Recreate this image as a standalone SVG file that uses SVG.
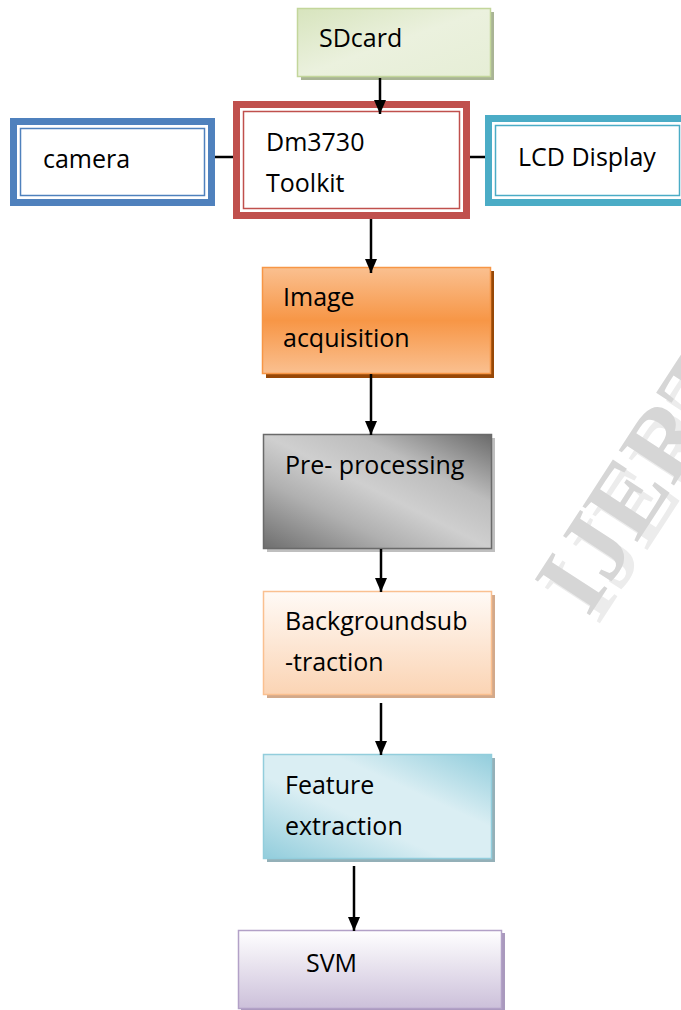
<svg xmlns="http://www.w3.org/2000/svg" width="681" height="1010" viewBox="0 0 681 1010">
<style>
.t{font-family:"Open Sans","Liberation Sans",sans-serif;font-size:25px;fill:#000}
.c{stroke:#000;stroke-width:2.5;fill:none}
.wm{font-family:"Liberation Serif","Times New Roman",serif;font-size:100px;font-weight:bold}
</style>
<defs>
<marker id="ah" viewBox="0 0 14 12" refX="14" refY="6" markerWidth="14" markerHeight="12" markerUnits="userSpaceOnUse" orient="auto"><path d="M0,0 L14,6 L0,12 z" fill="#000"/></marker>
<linearGradient id="gGreen" x1="0" y1="0" x2="1" y2="1"><stop offset="0" stop-color="#d7e4bd"/><stop offset="0.5" stop-color="#ebf1de"/><stop offset="1" stop-color="#e6eed6"/></linearGradient>
<linearGradient id="gOrange" x1="0" y1="0" x2="0" y2="1"><stop offset="0" stop-color="#fac090"/><stop offset="0.5" stop-color="#f79646"/><stop offset="1" stop-color="#fac090"/></linearGradient>
<linearGradient id="gGray" x1="0" y1="1" x2="1" y2="0"><stop offset="0" stop-color="#6e6e6e"/><stop offset="0.3" stop-color="#b0b0b0"/><stop offset="0.5" stop-color="#cfcfcf"/><stop offset="0.7" stop-color="#bdbdbd"/><stop offset="1" stop-color="#6a6a6a"/></linearGradient>
<linearGradient id="gPeach" x1="0" y1="0" x2="0" y2="1"><stop offset="0" stop-color="#fffaf6"/><stop offset="1" stop-color="#fbd4b4"/></linearGradient>
<linearGradient id="gTeal" x1="0" y1="1" x2="1" y2="0"><stop offset="0" stop-color="#92cddc"/><stop offset="0.4" stop-color="#daeef3"/><stop offset="0.65" stop-color="#daeef3"/><stop offset="1" stop-color="#92cddc"/></linearGradient>
<linearGradient id="gPurple" x1="0" y1="0" x2="0" y2="1"><stop offset="0" stop-color="#ffffff"/><stop offset="1" stop-color="#ccc0da"/></linearGradient>
</defs>
<rect width="681" height="1010" fill="#fff"/>
<g id="watermark">
<text class="wm" x="0" y="0" transform="translate(598,626) rotate(-57)" fill="#ececec">IJERT</text>
<text class="wm" x="0" y="0" transform="translate(588,618) rotate(-57)" fill="#d6d6d6">IJERT</text>
</g>
<g id="sdcard">
<rect x="301" y="12" width="193" height="68" fill="#a9b495"/>
<rect x="297.5" y="8.5" width="193" height="68" fill="url(#gGreen)" stroke="#c3d69b" stroke-width="1.5"/>
<text class="t" x="319" y="47">SDcard</text>
</g>
<g id="dm3730">
<rect x="236.5" y="104.5" width="230" height="111" fill="#fff" stroke="#c0504d" stroke-width="7"/>
<rect x="243.5" y="111.5" width="216" height="97" fill="none" stroke="#c0504d" stroke-width="1.5"/>
<text class="t" x="266" y="151">Dm3730</text>
<text class="t" x="266" y="192">Toolkit</text>
</g>
<g id="camera">
<rect x="13.5" y="121.5" width="198" height="81" fill="#fff" stroke="#4f81bd" stroke-width="7"/>
<rect x="20.5" y="128.5" width="184" height="67" fill="none" stroke="#4f81bd" stroke-width="1.5"/>
<text class="t" x="43" y="168">camera</text>
</g>
<g id="lcd">
<rect x="488.5" y="118.5" width="198" height="84" fill="#fff" stroke="#4bacc6" stroke-width="7"/>
<rect x="495.5" y="125.5" width="184" height="70" fill="none" stroke="#4bacc6" stroke-width="1.5"/>
<text class="t" x="518" y="166">LCD Display</text>
</g>
<g id="image-acquisition">
<rect x="266" y="271" width="228" height="107" fill="#984807"/>
<rect x="262.5" y="267.5" width="228" height="106" fill="url(#gOrange)" stroke="#f79646" stroke-width="1.5"/>
<text class="t" x="283" y="306">Image</text>
<text class="t" x="283" y="347">acquisition</text>
</g>
<g id="pre-processing">
<rect x="267" y="438" width="228" height="114" fill="#bfbfbf"/>
<rect x="263.5" y="434.5" width="228" height="114" fill="url(#gGray)" stroke="#6a6a6a" stroke-width="1.5"/>
<text class="t" x="285" y="474">Pre- processing</text>
</g>
<g id="background-subtraction">
<rect x="267" y="595" width="228" height="103" fill="#d3a98a"/>
<rect x="263.5" y="591.5" width="228" height="103" fill="url(#gPeach)" stroke="#fac090" stroke-width="1.5"/>
<text class="t" x="285" y="630">Backgroundsub</text>
<text class="t" x="285" y="671">-traction</text>
</g>
<g id="feature-extraction">
<rect x="267" y="758" width="228" height="104" fill="#94b0b8"/>
<rect x="263.5" y="754.5" width="228" height="104" fill="url(#gTeal)" stroke="#92cddc" stroke-width="1.5"/>
<text class="t" x="285" y="794">Feature</text>
<text class="t" x="285" y="835">extraction</text>
</g>
<g id="svm">
<rect x="241" y="933" width="264" height="80" fill="#a999bd"/>
<rect x="238.5" y="930.5" width="263" height="78" fill="url(#gPurple)" stroke="#b2a1c7" stroke-width="1.5"/>
<text class="t" x="306" y="972">SVM</text>
</g>
<g id="connectors">
<line class="c" x1="380" y1="78" x2="380" y2="114" marker-end="url(#ah)"/>
<line class="c" x1="215" y1="157" x2="233" y2="157"/>
<line class="c" x1="470" y1="157" x2="485" y2="157"/>
<line class="c" x1="371" y1="219" x2="371" y2="273" marker-end="url(#ah)"/>
<line class="c" x1="371" y1="374" x2="371" y2="435" marker-end="url(#ah)"/>
<line class="c" x1="381" y1="549" x2="381" y2="592" marker-end="url(#ah)"/>
<line class="c" x1="381" y1="703" x2="381" y2="755" marker-end="url(#ah)"/>
<line class="c" x1="354" y1="866" x2="354" y2="931" marker-end="url(#ah)"/>
</g>
</svg>
